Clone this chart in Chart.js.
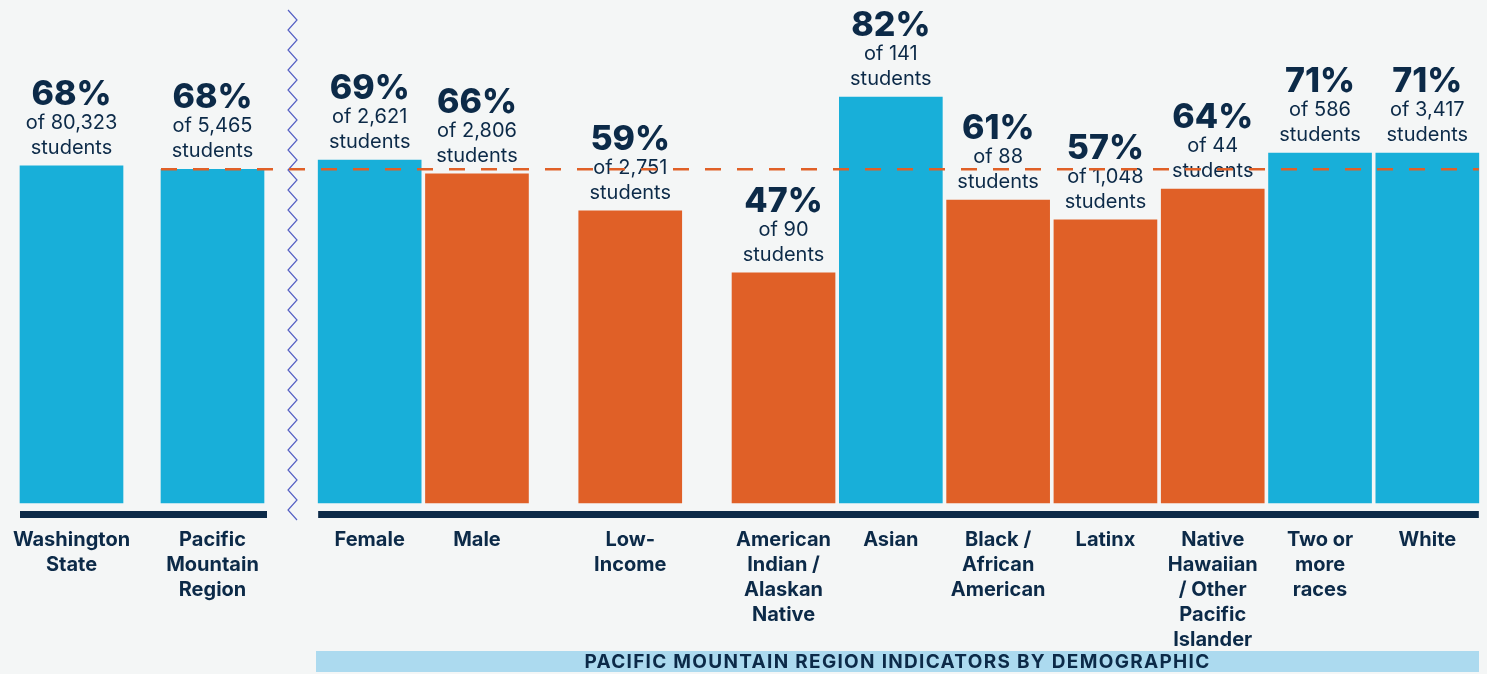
<!DOCTYPE html>
<html>
<head>
<meta charset="utf-8">
<script src="https://cdn.jsdelivr.net/npm/chart.js@4.4.1/dist/chart.umd.min.js"></script>
<style>
  html, body { margin: 0; padding: 0; background: #f4f6f6; }
  #wrap { position: relative; width: 1487px; height: 674px; overflow: hidden; }
  canvas { position: absolute; left: 0; top: 0; }
  #band {
    position: absolute; left: 316px; top: 651px; width: 1163px; height: 21px;
    background: #acdaef; color: #0c2a48; font: 700 19px Inter, sans-serif;
    letter-spacing: 1.3px; text-align: center; line-height: 22px;
  }
</style>
</head>
<body>
<div id="wrap">
  <canvas id="chartLeft" width="1487" height="674"></canvas>
  <canvas id="chartRight" width="1487" height="674"></canvas>
  <div id="band">PACIFIC MOUNTAIN REGION INDICATORS BY DEMOGRAPHIC</div>
</div>
<script>
// state + region
const categoriesLeft = [['Washington', 'State'], ['Pacific', 'Mountain', 'Region']];
const valuesLeft = [68.1, 67.4];
const pctLabelsLeft = ['68%', '68%'];
const countsLeft = ['80,323', '5,465'];

// region by demographic
const categoriesRight = ['Female', 'Male', ['Low-', 'Income'], ['American', 'Indian /', 'Alaskan', 'Native'], 'Asian',
  ['Black /', 'African', 'American'], 'Latinx', ['Native', 'Hawaiian', '/ Other', 'Pacific', 'Islander'],
  ['Two or', 'more', 'races'], 'White'];
const valuesRight = [69.3, 66.5, 59.0, 46.5, 82.0, 61.2, 57.2, 63.4, 70.7, 70.7];
const pctLabelsRight = ['69%', '66%', '59%', '47%', '82%', '61%', '57%', '64%', '71%', '71%'];
const countsRight = ['2,621', '2,806', '2,751', '90', '141', '88', '1,048', '44', '586', '3,417'];

const regionRate = valuesLeft[1];

const BLUE = '#18afd9', ORANGE = '#e06027', NAVY = '#0c2a48';
const BAR_W = 103;

// spacing between bar centres, in thin slots: normal 7, wider after Male and Low-Income
const wideGapAfter = [1, 2];
const STEP = 7, STEP_WIDE = 10;

function spreadSlots(cats) {
  const slots = [];
  cats.forEach((c, i) => {
    slots.push(i);
    if (i < cats.length - 1) {
      const n = wideGapAfter.includes(i) ? STEP_WIDE : STEP;
      for (let j = 1; j < n; j++) slots.push(null);
    }
  });
  return slots;
}

const barText = {
  id: 'barText',
  afterDatasetsDraw(chart, args, opts) {
    const ctx = chart.ctx;
    const meta = chart.getDatasetMeta(0);
    ctx.save();
    ctx.fillStyle = NAVY; ctx.textAlign = 'center'; ctx.textBaseline = 'alphabetic';
    meta.data.forEach((bar, i) => {
      const k = opts.slots[i];
      if (k === null) return;
      ctx.font = '800 34px Inter';
      ctx.fillText(opts.pct[k], bar.x, bar.y - 61);
      ctx.font = '400 20px Inter';
      ctx.fillText('of ' + opts.counts[k], bar.x, bar.y - 37);
      ctx.fillText('students', bar.x, bar.y - 12);
    });
    // axis band under the bars
    const bars = meta.data.filter((b, i) => opts.slots[i] !== null);
    const x0 = bars[0].x - BAR_W / 2, x1 = bars[bars.length - 1].x + BAR_W / 2 + opts.bandExtra;
    ctx.fillStyle = NAVY;
    ctx.fillRect(x0, chart.chartArea.bottom + 8, x1 - x0, 7);
    ctx.restore();
  }
};

const zigzag = {
  id: 'zigzag',
  afterDraw(chart) {
    const ctx = chart.ctx, a = chart.chartArea;
    ctx.save();
    ctx.strokeStyle = '#5560c4'; ctx.lineWidth = 1.2;
    ctx.beginPath();
    let y = a.top + 2, left = true;
    ctx.moveTo(a.right + 5, y);
    while (y < a.bottom + 12) {
      y += 10; left = !left;
      ctx.lineTo(left ? a.right + 5 : a.right + 14, y);
    }
    ctx.stroke();
    ctx.restore();
  }
};

let leftChart = null;

const avgLine = {
  id: 'avgLine',
  afterDatasetsDraw(chart) {
    const ctx = chart.ctx;
    const y = chart.scales.y.getPixelForValue(regionRate);
    const startBar = leftChart.getDatasetMeta(0).data[1];
    const meta = chart.getDatasetMeta(0);
    const endBar = meta.data[meta.data.length - 1];
    ctx.save();
    ctx.strokeStyle = ORANGE; ctx.lineWidth = 2.5; ctx.setLineDash([16, 16]);
    ctx.beginPath();
    ctx.moveTo(startBar.x - BAR_W / 2, y);
    ctx.lineTo(endBar.x + BAR_W / 2, y);
    ctx.stroke();
    ctx.restore();
  }
};

function makeChart(id, cats, vals, pct, counts, slots, padding, extraPlugins, bandExtra) {
  const labels = slots.map(k => k === null ? '' : cats[k]);
  const data = slots.map(k => k === null ? null : vals[k]);
  const colors = slots.map(k => k === null ? BLUE : (vals[k] >= regionRate ? BLUE : ORANGE));
  return new Chart(document.getElementById(id), {
    type: 'bar',
    data: { labels, datasets: [{ data, backgroundColor: colors, barThickness: BAR_W, clip: false }] },
    options: {
      responsive: false, animation: false, events: [],
      layout: { padding: padding },
      plugins: { legend: { display: false }, tooltip: { enabled: false }, barText: { slots, pct, counts, bandExtra } },
      scales: {
        y: { display: false, min: 0, max: 100 },
        x: {
          grid: { display: false, drawTicks: false }, border: { display: false },
          ticks: { autoSkip: false, maxRotation: 0, minRotation: 0, padding: 24, color: NAVY,
            font: { family: 'Inter', size: 20, weight: 'bold', lineHeight: 1.25 } },
          afterFit: s => { s.height = 171; s.paddingLeft = 0; s.paddingRight = 0; }
        }
      }
    },
    plugins: [barText].concat(extraPlugins)
  });
}

leftChart = makeChart('chartLeft', categoriesLeft, valuesLeft, pctLabelsLeft, countsLeft,
  [0, 1], { left: 1, right: 1204, top: 8, bottom: 0 }, [zigzag], 3);
// right area: 70 thin slots of ~15.33px, first bar centred at 369.5
makeChart('chartRight', categoriesRight, valuesRight, pctLabelsRight, countsRight,
  spreadSlots(categoriesRight), { left: 362, right: 52, top: 8, bottom: 0 }, [avgLine], 0);
</script>
</body>
</html>
